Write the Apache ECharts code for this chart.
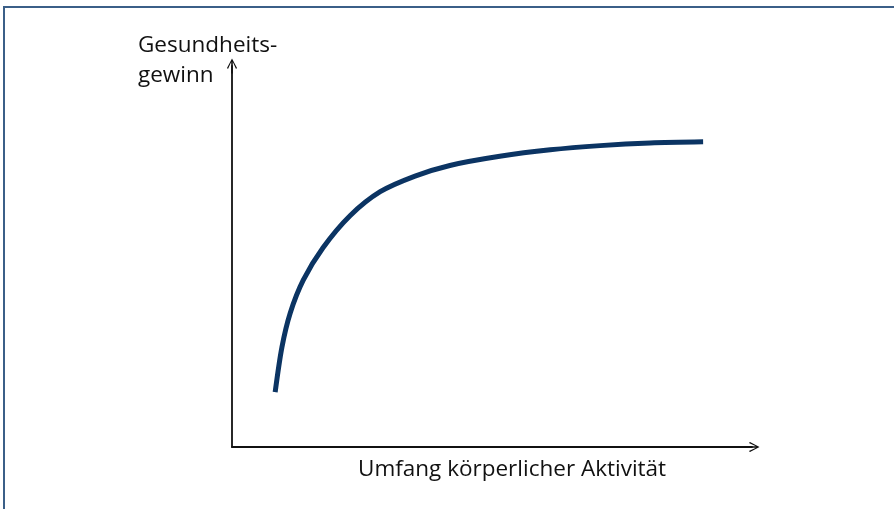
<!DOCTYPE html>
<html>
<head>
  <meta charset="UTF-8">
  <title>Gesundheitsgewinn</title>
  <script src="https://cdn.jsdelivr.net/npm/echarts@6/dist/echarts.min.js"></script>
  <style>
    html, body { margin: 0; padding: 0; background: #fff; }
    #chart { width: 894px; height: 509px; }
  </style>
</head>
<body>
  <div id="chart"></div>
  <script>
    const aktivitaet = [8.3, 9.6, 11.2, 13.7, 17.5, 22.7, 28.5, 35.2, 41.9, 51.5, 61.2, 70.8, 80.4, 90.6];
    const gewinn = [14.4, 26.2, 35.2, 43.8, 52.3, 60.7, 67.0, 71.1, 73.9, 76.3, 78.0, 79.1, 79.8, 80.1];

    const yTitle = 'Gesundheits-\ngewinn';
    const xTitle = 'Umfang körperlicher Aktivität';

    // offener Pfeil (zeigt nach oben, wird von echarts gedreht)
    const pfeil = 'path://M5,0 L10,9.5 L9,10.6 L5.8,3.6 L5.8,15 L4.2,15 L4.2,3.6 L1,10.6 L0,9.5 Z';

    const achse = {
      type: 'value',
      min: 0,
      max: 100,
      axisLine: {
        show: true,
        symbol: ['none', pfeil],
        symbolSize: [11, 15],
        lineStyle: { color: '#111', width: 1.8 }
      },
      axisTick: { show: false },
      axisLabel: { show: false },
      splitLine: { show: false }
    };

    const chart = echarts.init(document.getElementById('chart'));
    chart.setOption({
      animation: false,
      backgroundColor: '#fff',
      grid: { left: 232, right: 142, top: 66, bottom: 62 },
      xAxis: achse,
      yAxis: achse,
      series: [{
        type: 'line',
        data: aktivitaet.map((x, i) => [x, gewinn[i]]),
        smooth: 0.3,
        showSymbol: false,
        lineStyle: { color: '#0b3463', width: 5, cap: 'butt' }
      }],
      graphic: [
        {
          type: 'rect',
          shape: { x: 4, y: 7, width: 900, height: 520 },
          style: { fill: 'none', stroke: '#3b5f88', lineWidth: 2 }
        },
        {
          type: 'text',
          left: 138,
          top: 31,
          style: {
            text: yTitle,
            font: '22.5px "Open Sans", sans-serif',
            lineHeight: 30,
            fill: '#111'
          }
        },
        {
          type: 'text',
          left: 358,
          top: 458,
          style: {
            text: xTitle,
            font: '22.5px "Open Sans", sans-serif',
            fill: '#111'
          }
        }
      ]
    });
  </script>
</body>
</html>
